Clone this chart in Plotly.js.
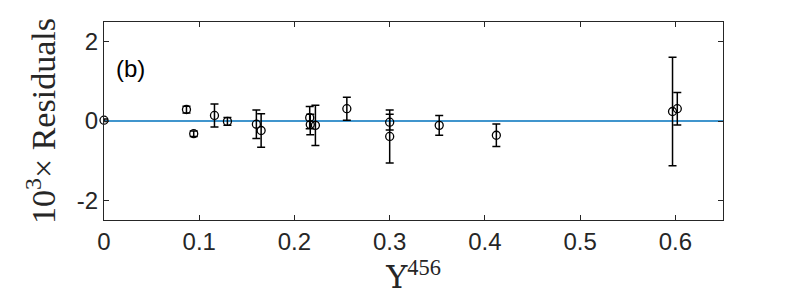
<!DOCTYPE html>
<html>
<head>
<meta charset="utf-8">
<script src="https://cdn.plot.ly/plotly-3.0.1.min.js"></script>
<style>html,body{margin:0;padding:0;background:#fff;}#chart{width:800px;height:300px;}</style>
</head>
<body>
<div id="chart"></div>
<script>
const upsilon = [0, 0.0866, 0.0942, 0.116, 0.1296, 0.160, 0.165, 0.216, 0.2166, 0.222, 0.255, 0.300, 0.300, 0.352, 0.412, 0.597, 0.602];
const residuals = [0.02, 0.29, -0.32, 0.14, -0.01, -0.08, -0.24, 0.085, -0.09, -0.11, 0.31, -0.03, -0.39, -0.11, -0.36, 0.24, 0.31];
const errors = [0.03, 0.085, 0.07, 0.29, 0.1, 0.36, 0.42, 0.28, 0.26, 0.51, 0.29, 0.2, 0.67, 0.25, 0.285, 1.37, 0.41];
const xTicks = [0, 0.1, 0.2, 0.3, 0.4, 0.5, 0.6];
const xTickLabels = ['0', '0.1', '0.2', '0.3', '0.4', '0.5', '0.6'];
const yTicks = [-2, 0, 2];
const yTickLabels = ['-2', '0', '2'];

const axisColor = '#262626';
const data = [{
  x: upsilon,
  y: residuals,
  type: 'scatter',
  mode: 'markers',
  cliponaxis: false,
  marker: {symbol: 'circle-open', size: 8, color: '#000', line: {width: 1.3, color: '#000'}},
  error_y: {type: 'data', array: errors, visible: true, color: '#000', thickness: 1.5, width: 4},
  showlegend: false
}];

const layout = {
  width: 800, height: 300,
  margin: {l: 103.5, r: 77, t: 22, b: 80},
  paper_bgcolor: '#fff', plot_bgcolor: '#fff',
  font: {family: 'Liberation Sans, Arial, sans-serif', size: 24, color: axisColor},
  xaxis: {
    range: [0, 0.65], tickvals: xTicks, ticktext: xTickLabels,
    ticks: 'inside', ticklen: 5, tickcolor: axisColor, tickwidth: 1,
    showline: true, linecolor: axisColor, linewidth: 1, mirror: 'ticks',
    showgrid: false, zeroline: false,
    tickfont: {size: 24, color: axisColor},
    title: {text: '<span style="font-family:DejaVu Serif">Υ</span><sup>456</sup>', font: {family: 'Liberation Serif, DejaVu Serif, serif', size: 32, color: axisColor}, standoff: 2}
  },
  yaxis: {
    range: [-2.5, 2.5], tickvals: yTicks, ticktext: yTickLabels,
    ticks: 'inside', ticklen: 5, tickcolor: axisColor, tickwidth: 1,
    showline: true, linecolor: axisColor, linewidth: 1, mirror: 'ticks',
    showgrid: false, zeroline: false,
    tickfont: {size: 24, color: axisColor},
    title: {text: '10<sup>3</sup>× Residuals', font: {family: 'Liberation Serif, DejaVu Serif, serif', size: 34, color: axisColor}, standoff: 10}
  },
  shapes: [{type: 'line', xref: 'paper', yref: 'y', x0: 0, x1: 1, y0: 0, y1: 0, line: {color: '#0072BD', width: 1.5}, layer: 'below'}],
  annotations: [{text: '(b)', xref: 'x', yref: 'y', x: 0.01, y: 1.32, xanchor: 'left', yanchor: 'middle', showarrow: false, font: {size: 24, color: '#000'}}]
};

Plotly.newPlot('chart', data, layout, {displayModeBar: false, staticPlot: true});
</script>
</body>
</html>
